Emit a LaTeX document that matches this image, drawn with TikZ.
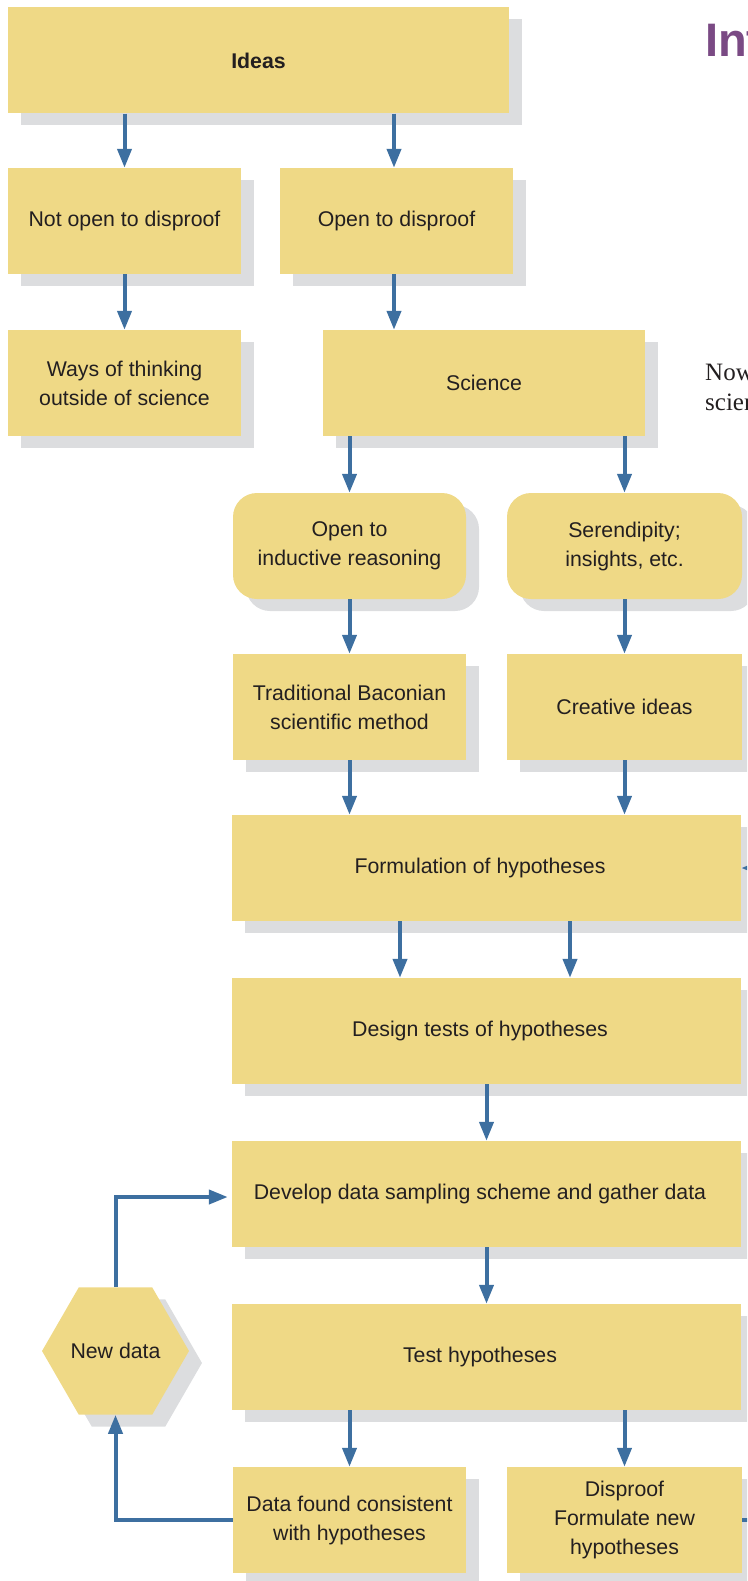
\documentclass[tikz,border=0pt]{standalone}
\usepackage{fontspec}
\setmainfont{Liberation Sans}
\newfontfamily\serifnow{Liberation Serif}
\usetikzlibrary{arrows.meta,shapes.geometric,shadows}
\definecolor{boxyellow}{RGB}{239,217,134}
\definecolor{shadowgray}{RGB}{220,221,223}
\definecolor{arrowblue}{RGB}{61,111,160}
\definecolor{textdark}{RGB}{35,31,32}
\definecolor{titlepurple}{RGB}{122,74,132}
\newcommand{\leftshift}{\hspace*{13pt}}
\begin{document}
\begin{tikzpicture}[x=1pt,y=-1pt,
  box/.style={draw=none, fill=boxyellow, inner sep=0pt, align=center, text=textdark,
    font=\fontsize{21.3}{29}\selectfont, minimum height=106pt,
    drop shadow={shadow xshift=13pt, shadow yshift=-12pt, fill=shadowgray, opacity=1}},
  roundbox/.style={box, rounded corners=24pt},
  hexbox/.style={box, shape=regular polygon, regular polygon sides=6, minimum size=145pt},
  arr/.style={draw=arrowblue, line width=4pt, -{Triangle[length=19pt,width=14pt]}},
  link/.style={draw=arrowblue, line width=4pt}
]
\useasboundingbox (0,0) rectangle (747,1581);
\clip (0,0) rectangle (747,1581);

% title and side text (cut by the page edge, as in the reference)
\node[anchor=base west, inner sep=0pt, text=titlepurple, font=\fontsize{47}{47}\selectfont\bfseries] (title) at (705,57) {Int};
\node[anchor=base west, inner sep=0pt, text=textdark, font=\serifnow\fontsize{25}{30}\selectfont] (now) at (705,380) {Now};
\node[anchor=base west, inner sep=0pt, text=textdark, font=\serifnow\fontsize{25}{30}\selectfont] (scien) at (705,410) {science};

% boxes
\node[box, minimum width=501pt, font=\fontsize{21.3}{29}\selectfont\bfseries] (ideas) at (258.5,60.5) {Ideas};
\node[box, minimum width=233pt] (notopen) at (124.5,221) {Not open to disproof};
\node[box, minimum width=233pt] (open) at (396.5,221) {Open to disproof};
\node[box, minimum width=233pt] (ways) at (124.5,383) {Ways of thinking\\outside of science};
\node[box, minimum width=322pt] (science) at (484,383) {Science};
\node[roundbox, minimum width=233pt] (induct) at (349.5,546) {Open to\\inductive reasoning};
\node[roundbox, minimum width=235pt] (seren) at (624.5,546) {Serendipity;\\insights, etc.};
\node[box, minimum width=233pt] (bacon) at (349.5,707) {Traditional Baconian\\scientific method};
\node[box, minimum width=235pt] (creative) at (624.5,707) {Creative ideas};
\node[box, minimum width=509pt] (form) at (486.5,868) {Formulation of hypotheses\leftshift};
\node[box, minimum width=509pt] (design) at (486.5,1031) {Design tests of hypotheses\leftshift};
\node[box, minimum width=509pt] (develop) at (486.5,1194) {Develop data sampling scheme and gather data\leftshift};
\node[box, minimum width=509pt] (test) at (486.5,1357) {Test hypotheses\leftshift};
\node[box, minimum width=233pt] (data) at (349.5,1520) {Data found consistent\\with hypotheses};
\node[box, minimum width=235pt] (disproof) at (624.5,1520) {Disproof\\Formulate new\\hypotheses};
\node[hexbox] (newdata) at (115.5,1351) {New data};

\coordinate (offright) at (775,868);

% connectors
\draw[arr] (ideas.south -| notopen.north) -- (notopen.north);
\draw[arr] ([xshift=-2.5pt]ideas.south -| open.north) -- ([xshift=-2.5pt]open.north);
\draw[arr] (notopen) -- (ways);
\draw[arr] ([xshift=-2.5pt]open.south) -- ([xshift=-2.5pt]open.south |- science.north);
\draw[arr] (science.south -| induct.north) -- (induct.north);
\draw[arr] (science.south -| seren.north) -- (seren.north);
\draw[arr] (induct) -- (bacon);
\draw[arr] (seren) -- (creative);
\draw[arr] (bacon.south) -- (bacon.south |- form.north);
\draw[arr] (creative.south) -- (creative.south |- form.north);
\draw[arr] ([xshift=-86.5pt]form.south) -- ([xshift=-86.5pt]design.north);
\draw[arr] ([xshift=83.5pt]form.south) -- ([xshift=83.5pt]design.north);
\draw[arr] (design) -- (develop);
\draw[arr] (develop) -- (test);
\draw[arr] (test.south -| data.north) -- (data.north);
\draw[arr] (test.south -| disproof.north) -- (disproof.north);
\draw[arr] (data.west) -| (newdata.south);
\draw[arr, shorten >=4pt] (newdata.north) |- ([yshift=-3pt]develop.west);
\draw[link] (disproof.east) -- ++(25,0);
\draw[arr] (offright) -- (form.east);
\end{tikzpicture}
\end{document}
